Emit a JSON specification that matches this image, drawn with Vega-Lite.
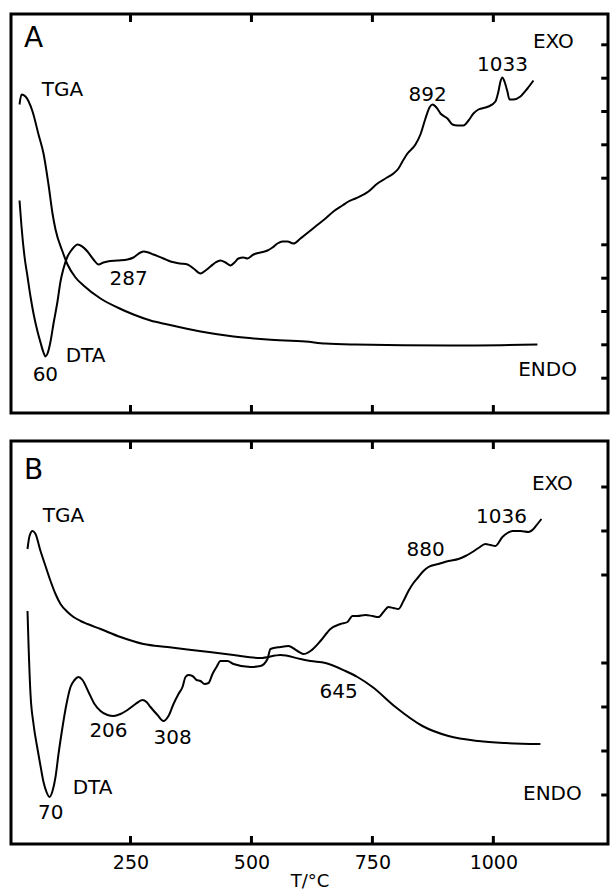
{
  "$schema": "https://vega.github.io/schema/vega-lite/v6.json",
  "background": "white",
  "padding": {"left": 9, "top": 11, "right": 0, "bottom": 0},
  "spacing": 22,
  "config": {
    "view": {"stroke": "black", "strokeWidth": 3},
    "axis": {"domain": false, "grid": false, "tickColor": "black", "labelColor": "black", "titleColor": "black", "labelFont": "DejaVu Sans", "titleFont": "DejaVu Sans"},
    "text": {"font": "DejaVu Sans", "color": "black"}
  },
  "datasets": {
    "xTicks": [{"T": 250}, {"T": 500}, {"T": 750}, {"T": 1000}],
    "yTicksA": [{"v": 166.7}, {"v": 133.3}, {"v": 100}, {"v": 66.7}, {"v": 33.3}, {"v": -33.3}, {"v": -66.7}, {"v": -100}, {"v": -133.3}, {"v": -166.7}],
    "yTicksB": [{"v": 136}, {"v": 92}, {"v": 48}, {"v": -40}, {"v": -84}, {"v": -128}, {"v": -172}],
    "curvesA": [
      {"series": "TGA", "T": 20.6, "v": 107}, {"series": "TGA", "T": 24.7, "v": 117}, {"series": "TGA", "T": 33, "v": 115}, {"series": "TGA", "T": 47.5, "v": 100}, {"series": "TGA", "T": 59.9, "v": 77}, {"series": "TGA", "T": 70.2, "v": 58}, {"series": "TGA", "T": 80.5, "v": 27}, {"series": "TGA", "T": 88.8, "v": -2}, {"series": "TGA", "T": 95, "v": -18}, {"series": "TGA", "T": 109.5, "v": -40}, {"series": "TGA", "T": 119.8, "v": -53}, {"series": "TGA", "T": 136.3, "v": -66}, {"series": "TGA", "T": 152.9, "v": -74}, {"series": "TGA", "T": 188, "v": -87}, {"series": "TGA", "T": 223.1, "v": -96}, {"series": "TGA", "T": 256.2, "v": -103}, {"series": "TGA", "T": 291.3, "v": -109}, {"series": "TGA", "T": 326.5, "v": -113}, {"series": "TGA", "T": 394.7, "v": -120}, {"series": "TGA", "T": 462.9, "v": -125}, {"series": "TGA", "T": 533.1, "v": -128}, {"series": "TGA", "T": 611.7, "v": -130}, {"series": "TGA", "T": 653, "v": -132}, {"series": "TGA", "T": 715, "v": -133}, {"series": "TGA", "T": 911.3, "v": -134}, {"series": "TGA", "T": 1091.1, "v": -133},
      {"series": "DTA", "T": 20.6, "v": 11}, {"series": "DTA", "T": 24.7, "v": -15}, {"series": "DTA", "T": 30.9, "v": -45}, {"series": "DTA", "T": 37.1, "v": -65}, {"series": "DTA", "T": 43.3, "v": -85}, {"series": "DTA", "T": 49.5, "v": -102}, {"series": "DTA", "T": 57.8, "v": -120}, {"series": "DTA", "T": 64, "v": -131}, {"series": "DTA", "T": 70.2, "v": -141}, {"series": "DTA", "T": 74.3, "v": -145}, {"series": "DTA", "T": 78.5, "v": -142}, {"series": "DTA", "T": 84.7, "v": -130}, {"series": "DTA", "T": 90.9, "v": -112}, {"series": "DTA", "T": 99.1, "v": -90}, {"series": "DTA", "T": 105.3, "v": -70}, {"series": "DTA", "T": 111.5, "v": -57}, {"series": "DTA", "T": 119.8, "v": -45}, {"series": "DTA", "T": 126, "v": -40}, {"series": "DTA", "T": 134.3, "v": -35}, {"series": "DTA", "T": 140.5, "v": -33}, {"series": "DTA", "T": 146.7, "v": -34}, {"series": "DTA", "T": 161.1, "v": -40}, {"series": "DTA", "T": 173.5, "v": -48}, {"series": "DTA", "T": 183.9, "v": -53}, {"series": "DTA", "T": 194.2, "v": -51}, {"series": "DTA", "T": 202.5, "v": -50}, {"series": "DTA", "T": 223.1, "v": -49}, {"series": "DTA", "T": 243.8, "v": -48}, {"series": "DTA", "T": 256.2, "v": -46}, {"series": "DTA", "T": 270.7, "v": -41}, {"series": "DTA", "T": 276.9, "v": -40}, {"series": "DTA", "T": 287.2, "v": -41}, {"series": "DTA", "T": 297.5, "v": -43}, {"series": "DTA", "T": 318.2, "v": -47}, {"series": "DTA", "T": 332.7, "v": -50}, {"series": "DTA", "T": 353.3, "v": -52}, {"series": "DTA", "T": 367.8, "v": -53}, {"series": "DTA", "T": 380.2, "v": -57}, {"series": "DTA", "T": 394.7, "v": -62}, {"series": "DTA", "T": 405, "v": -59}, {"series": "DTA", "T": 415.3, "v": -55}, {"series": "DTA", "T": 425.7, "v": -51}, {"series": "DTA", "T": 436, "v": -49}, {"series": "DTA", "T": 446.3, "v": -51}, {"series": "DTA", "T": 456.7, "v": -54}, {"series": "DTA", "T": 464.9, "v": -51}, {"series": "DTA", "T": 473.2, "v": -47}, {"series": "DTA", "T": 483.5, "v": -46}, {"series": "DTA", "T": 491.8, "v": -47}, {"series": "DTA", "T": 504.2, "v": -43}, {"series": "DTA", "T": 518.7, "v": -41}, {"series": "DTA", "T": 533.1, "v": -39}, {"series": "DTA", "T": 543.5, "v": -36}, {"series": "DTA", "T": 553.8, "v": -32}, {"series": "DTA", "T": 564.1, "v": -30}, {"series": "DTA", "T": 574.5, "v": -30}, {"series": "DTA", "T": 586.9, "v": -32}, {"series": "DTA", "T": 601.3, "v": -27}, {"series": "DTA", "T": 611.7, "v": -23}, {"series": "DTA", "T": 632.3, "v": -15}, {"series": "DTA", "T": 653, "v": -7}, {"series": "DTA", "T": 669.5, "v": 0}, {"series": "DTA", "T": 688.1, "v": 6}, {"series": "DTA", "T": 700.5, "v": 10}, {"series": "DTA", "T": 715, "v": 13}, {"series": "DTA", "T": 741.9, "v": 20}, {"series": "DTA", "T": 760.5, "v": 28}, {"series": "DTA", "T": 777, "v": 33}, {"series": "DTA", "T": 793.5, "v": 38}, {"series": "DTA", "T": 803.9, "v": 43}, {"series": "DTA", "T": 812.1, "v": 50}, {"series": "DTA", "T": 822.5, "v": 58}, {"series": "DTA", "T": 839, "v": 67}, {"series": "DTA", "T": 849.3, "v": 77}, {"series": "DTA", "T": 859.7, "v": 93}, {"series": "DTA", "T": 868, "v": 104}, {"series": "DTA", "T": 874.1, "v": 107}, {"series": "DTA", "T": 882.4, "v": 104}, {"series": "DTA", "T": 890.7, "v": 98}, {"series": "DTA", "T": 905.2, "v": 93}, {"series": "DTA", "T": 915.5, "v": 87}, {"series": "DTA", "T": 925.8, "v": 86}, {"series": "DTA", "T": 938.2, "v": 86}, {"series": "DTA", "T": 948.6, "v": 91}, {"series": "DTA", "T": 958.9, "v": 98}, {"series": "DTA", "T": 969.2, "v": 102}, {"series": "DTA", "T": 989.9, "v": 105}, {"series": "DTA", "T": 1004.3, "v": 110}, {"series": "DTA", "T": 1010.5, "v": 120}, {"series": "DTA", "T": 1014.7, "v": 130}, {"series": "DTA", "T": 1018.8, "v": 134}, {"series": "DTA", "T": 1023, "v": 130}, {"series": "DTA", "T": 1029.1, "v": 120}, {"series": "DTA", "T": 1033.3, "v": 112}, {"series": "DTA", "T": 1041.5, "v": 112}, {"series": "DTA", "T": 1056, "v": 115}, {"series": "DTA", "T": 1070.5, "v": 123}, {"series": "DTA", "T": 1082.9, "v": 131}
    ],
    "labelsA": [
      {"kind": "panel", "text": "A", "T": 49.5, "v": 173},
      {"kind": "label", "text": "TGA", "T": 109.5, "v": 122},
      {"kind": "label", "text": "EXO", "T": 1124, "v": 170},
      {"kind": "label", "text": "892", "T": 864, "v": 117},
      {"kind": "label", "text": "1033", "T": 1019, "v": 147},
      {"kind": "label", "text": "287", "T": 246, "v": -67},
      {"kind": "label", "text": "DTA", "T": 157, "v": -144},
      {"kind": "label", "text": "60", "T": 74, "v": -163},
      {"kind": "label", "text": "ENDO", "T": 1112, "v": -158}
    ],
    "curvesB": [
      {"series": "TGA", "T": 37.1, "v": 74}, {"series": "TGA", "T": 41.3, "v": 87}, {"series": "TGA", "T": 47.5, "v": 92}, {"series": "TGA", "T": 53.7, "v": 89}, {"series": "TGA", "T": 64, "v": 72}, {"series": "TGA", "T": 74.3, "v": 57}, {"series": "TGA", "T": 84.7, "v": 42}, {"series": "TGA", "T": 95, "v": 29}, {"series": "TGA", "T": 105.3, "v": 19}, {"series": "TGA", "T": 119.8, "v": 11}, {"series": "TGA", "T": 132.2, "v": 6}, {"series": "TGA", "T": 146.7, "v": 2}, {"series": "TGA", "T": 161.1, "v": -1}, {"series": "TGA", "T": 188, "v": -6}, {"series": "TGA", "T": 229.3, "v": -14}, {"series": "TGA", "T": 276.9, "v": -21}, {"series": "TGA", "T": 326.5, "v": -24}, {"series": "TGA", "T": 394.7, "v": -28}, {"series": "TGA", "T": 462.9, "v": -32}, {"series": "TGA", "T": 518.7, "v": -35}, {"series": "TGA", "T": 560, "v": -32}, {"series": "TGA", "T": 601.3, "v": -36}, {"series": "TGA", "T": 622, "v": -38}, {"series": "TGA", "T": 653, "v": -40}, {"series": "TGA", "T": 694.3, "v": -48}, {"series": "TGA", "T": 719.1, "v": -54}, {"series": "TGA", "T": 750.2, "v": -64}, {"series": "TGA", "T": 797.7, "v": -84}, {"series": "TGA", "T": 853.5, "v": -103}, {"series": "TGA", "T": 907.2, "v": -113}, {"series": "TGA", "T": 969.2, "v": -118}, {"series": "TGA", "T": 1025, "v": -120}, {"series": "TGA", "T": 1097.3, "v": -121},
      {"series": "DTA", "T": 37.1, "v": 12}, {"series": "DTA", "T": 39.2, "v": -21}, {"series": "DTA", "T": 43.3, "v": -71}, {"series": "DTA", "T": 49.5, "v": -101}, {"series": "DTA", "T": 57.8, "v": -126}, {"series": "DTA", "T": 64, "v": -143}, {"series": "DTA", "T": 70.2, "v": -159}, {"series": "DTA", "T": 76.4, "v": -169}, {"series": "DTA", "T": 82.6, "v": -174}, {"series": "DTA", "T": 88.8, "v": -168}, {"series": "DTA", "T": 95, "v": -154}, {"series": "DTA", "T": 101.2, "v": -131}, {"series": "DTA", "T": 109.5, "v": -104}, {"series": "DTA", "T": 117.7, "v": -81}, {"series": "DTA", "T": 126, "v": -64}, {"series": "DTA", "T": 134.3, "v": -57}, {"series": "DTA", "T": 142.5, "v": -54}, {"series": "DTA", "T": 150.8, "v": -57}, {"series": "DTA", "T": 163.2, "v": -69}, {"series": "DTA", "T": 175.6, "v": -81}, {"series": "DTA", "T": 188, "v": -88}, {"series": "DTA", "T": 202.5, "v": -92}, {"series": "DTA", "T": 214.9, "v": -93}, {"series": "DTA", "T": 229.3, "v": -91}, {"series": "DTA", "T": 243.8, "v": -87}, {"series": "DTA", "T": 260.3, "v": -81}, {"series": "DTA", "T": 274.8, "v": -77}, {"series": "DTA", "T": 283.1, "v": -79}, {"series": "DTA", "T": 291.3, "v": -84}, {"series": "DTA", "T": 305.8, "v": -92}, {"series": "DTA", "T": 318.2, "v": -98}, {"series": "DTA", "T": 328.5, "v": -93}, {"series": "DTA", "T": 338.9, "v": -81}, {"series": "DTA", "T": 349.2, "v": -71}, {"series": "DTA", "T": 357.5, "v": -64}, {"series": "DTA", "T": 363.7, "v": -54}, {"series": "DTA", "T": 369.9, "v": -52}, {"series": "DTA", "T": 378.1, "v": -53}, {"series": "DTA", "T": 386.4, "v": -57}, {"series": "DTA", "T": 394.7, "v": -58}, {"series": "DTA", "T": 403, "v": -61}, {"series": "DTA", "T": 411.2, "v": -60}, {"series": "DTA", "T": 419.5, "v": -51}, {"series": "DTA", "T": 427.8, "v": -44}, {"series": "DTA", "T": 436, "v": -38}, {"series": "DTA", "T": 450.5, "v": -38}, {"series": "DTA", "T": 462.9, "v": -41}, {"series": "DTA", "T": 498, "v": -44}, {"series": "DTA", "T": 518.7, "v": -43}, {"series": "DTA", "T": 533.1, "v": -36}, {"series": "DTA", "T": 539.3, "v": -26}, {"series": "DTA", "T": 560, "v": -24}, {"series": "DTA", "T": 576.5, "v": -23}, {"series": "DTA", "T": 595.1, "v": -28}, {"series": "DTA", "T": 607.5, "v": -31}, {"series": "DTA", "T": 622, "v": -28}, {"series": "DTA", "T": 642.7, "v": -18}, {"series": "DTA", "T": 663.3, "v": -6}, {"series": "DTA", "T": 684, "v": -1}, {"series": "DTA", "T": 698.5, "v": 1}, {"series": "DTA", "T": 708.8, "v": 7}, {"series": "DTA", "T": 719.1, "v": 7}, {"series": "DTA", "T": 735.7, "v": 8}, {"series": "DTA", "T": 750.2, "v": 7}, {"series": "DTA", "T": 762.5, "v": 6}, {"series": "DTA", "T": 772.9, "v": 11}, {"series": "DTA", "T": 783.2, "v": 16}, {"series": "DTA", "T": 793.5, "v": 15}, {"series": "DTA", "T": 803.9, "v": 14}, {"series": "DTA", "T": 814.2, "v": 22}, {"series": "DTA", "T": 824.5, "v": 32}, {"series": "DTA", "T": 834.9, "v": 40}, {"series": "DTA", "T": 845.2, "v": 46}, {"series": "DTA", "T": 855.6, "v": 52}, {"series": "DTA", "T": 865.9, "v": 56}, {"series": "DTA", "T": 886.5, "v": 59}, {"series": "DTA", "T": 907.2, "v": 62}, {"series": "DTA", "T": 927.9, "v": 64}, {"series": "DTA", "T": 942.4, "v": 67}, {"series": "DTA", "T": 956.8, "v": 71}, {"series": "DTA", "T": 969.2, "v": 75}, {"series": "DTA", "T": 983.7, "v": 79}, {"series": "DTA", "T": 994, "v": 78}, {"series": "DTA", "T": 1004.3, "v": 77}, {"series": "DTA", "T": 1018.8, "v": 86}, {"series": "DTA", "T": 1029.1, "v": 90}, {"series": "DTA", "T": 1039.5, "v": 92}, {"series": "DTA", "T": 1056, "v": 92}, {"series": "DTA", "T": 1072.6, "v": 91}, {"series": "DTA", "T": 1082.9, "v": 94}, {"series": "DTA", "T": 1091.2, "v": 99}, {"series": "DTA", "T": 1099.4, "v": 104}
    ],
    "labelsB": [
      {"kind": "panel", "text": "B", "T": 49.5, "v": 152},
      {"kind": "label", "text": "TGA", "T": 111.5, "v": 107},
      {"kind": "label", "text": "EXO", "T": 1122, "v": 139},
      {"kind": "label", "text": "1036", "T": 1017, "v": 106},
      {"kind": "label", "text": "880", "T": 860, "v": 73},
      {"kind": "label", "text": "645", "T": 680, "v": -69},
      {"kind": "label", "text": "206", "T": 204.5, "v": -108},
      {"kind": "label", "text": "308", "T": 337, "v": -115},
      {"kind": "label", "text": "DTA", "T": 171.5, "v": -165},
      {"kind": "label", "text": "70", "T": 85, "v": -190},
      {"kind": "label", "text": "ENDO", "T": 1122, "v": -171}
    ]
  },
  "vconcat": [
    {
      "width": 597,
      "height": 399,
      "layer": [
        {
          "data": {"name": "curvesA"},
          "mark": {"type": "line", "color": "black", "strokeWidth": 2, "interpolate": "monotone"},
          "encoding": {
            "x": {"field": "T", "type": "quantitative", "scale": {"domain": [3, 1237], "nice": false, "zero": false}, "axis": null},
            "y": {"field": "v", "type": "quantitative", "scale": {"domain": [-201.5, 197.5], "nice": false, "zero": false}, "axis": null},
            "detail": {"field": "series", "type": "nominal"}
          }
        },
        {
          "mark": {"type": "rule", "color": "black", "strokeWidth": 1.2},
          "encoding": {"y": {"datum": 0}}
        },
        {
          "data": {"name": "xTicks"},
          "mark": {"type": "rule", "color": "black", "strokeWidth": 3},
          "encoding": {"x": {"field": "T", "type": "quantitative"}, "y": {"datum": 197.5}, "y2": {"datum": 189.5}}
        },
        {
          "data": {"name": "xTicks"},
          "mark": {"type": "rule", "color": "black", "strokeWidth": 3},
          "encoding": {"x": {"field": "T", "type": "quantitative"}, "y": {"datum": -201.5}, "y2": {"datum": -193.5}}
        },
        {
          "data": {"name": "yTicksA"},
          "mark": {"type": "rule", "color": "black", "strokeWidth": 3},
          "encoding": {"y": {"field": "v", "type": "quantitative"}, "x": {"datum": 1237}, "x2": {"datum": 1223}}
        },
        {
          "data": {"name": "labelsA"},
          "transform": [{"filter": "datum.kind === 'label'"}],
          "mark": {"type": "text", "fontSize": 20, "align": "center", "baseline": "middle"},
          "encoding": {
            "x": {"field": "T", "type": "quantitative"},
            "y": {"field": "v", "type": "quantitative"},
            "text": {"field": "text"}
          }
        },
        {
          "data": {"name": "labelsA"},
          "transform": [{"filter": "datum.kind === 'panel'"}],
          "mark": {"type": "text", "fontSize": 28, "align": "center", "baseline": "middle"},
          "encoding": {
            "x": {"field": "T", "type": "quantitative"},
            "y": {"field": "v", "type": "quantitative"},
            "text": {"field": "text"}
          }
        }
      ]
    },
    {
      "width": 597,
      "height": 403,
      "layer": [
        {
          "data": {"name": "curvesB"},
          "mark": {"type": "line", "color": "black", "strokeWidth": 2, "interpolate": "monotone"},
          "encoding": {
            "x": {"field": "T", "type": "quantitative", "scale": {"domain": [3, 1237], "nice": false, "zero": false},
                  "axis": {"orient": "bottom", "ticks": false, "tickSize": 0, "labels": true, "format": "d", "title": "T/°C", "values": [250, 500, 750, 1000],
                           "labelFontSize": 19, "labelPadding": 9, "titleFontSize": 18, "titleFontWeight": "normal", "titlePadding": 0}},
            "y": {"field": "v", "type": "quantitative", "scale": {"domain": [-221, 182], "nice": false, "zero": false}, "axis": null},
            "detail": {"field": "series", "type": "nominal"}
          }
        },
        {
          "mark": {"type": "rule", "color": "black", "strokeWidth": 1.2},
          "encoding": {"y": {"datum": 0}}
        },
        {
          "data": {"name": "xTicks"},
          "mark": {"type": "rule", "color": "black", "strokeWidth": 3},
          "encoding": {"x": {"field": "T", "type": "quantitative"}, "y": {"datum": 182}, "y2": {"datum": 174}}
        },
        {
          "data": {"name": "xTicks"},
          "mark": {"type": "rule", "color": "black", "strokeWidth": 3},
          "encoding": {"x": {"field": "T", "type": "quantitative"}, "y": {"datum": -221}, "y2": {"datum": -213}}
        },
        {
          "data": {"name": "yTicksB"},
          "mark": {"type": "rule", "color": "black", "strokeWidth": 3},
          "encoding": {"y": {"field": "v", "type": "quantitative"}, "x": {"datum": 1237}, "x2": {"datum": 1223}}
        },
        {
          "data": {"name": "labelsB"},
          "transform": [{"filter": "datum.kind === 'label'"}],
          "mark": {"type": "text", "fontSize": 20, "align": "center", "baseline": "middle"},
          "encoding": {
            "x": {"field": "T", "type": "quantitative"},
            "y": {"field": "v", "type": "quantitative"},
            "text": {"field": "text"}
          }
        },
        {
          "data": {"name": "labelsB"},
          "transform": [{"filter": "datum.kind === 'panel'"}],
          "mark": {"type": "text", "fontSize": 28, "align": "center", "baseline": "middle"},
          "encoding": {
            "x": {"field": "T", "type": "quantitative"},
            "y": {"field": "v", "type": "quantitative"},
            "text": {"field": "text"}
          }
        }
      ]
    }
  ]
}
